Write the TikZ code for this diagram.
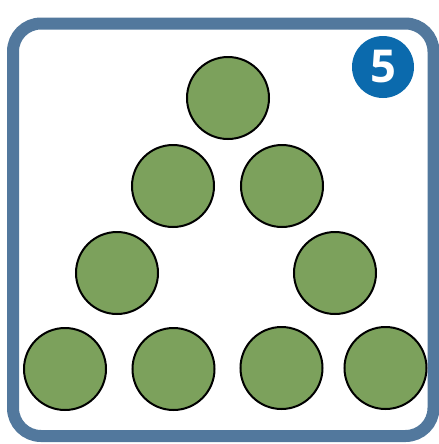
\documentclass[tikz,border=0pt]{standalone}
\usepackage{fontspec}
\setsansfont{Open Sans}
\definecolor{FrameBlue}{HTML}{52789D}
\definecolor{BadgeBlue}{HTML}{0B6AAD}
\definecolor{CounterGreen}{HTML}{7CA15C}
\usepackage{tikz}
\usetikzlibrary{positioning}
\tikzset{
    % Outer card frame
    cardframe/.style={
        draw=FrameBlue,
        fill=white,
        line width=9pt,
        rounded corners=21pt
    },
    % Green counter
    counter/.style={
        circle,
        draw=black,
        fill=CounterGreen,
        line width=1.5pt,
        minimum size=61.5pt,
        inner sep=0pt
    },
    % Number badge
    badge/.style={
        circle,
        fill=BadgeBlue,
        text=white,
        minimum size=46.5pt,
        inner sep=0pt,
        font=\sffamily\bfseries\fontsize{34}{34}\selectfont
    }
}
\begin{document}
\begin{tikzpicture}[x=0.75pt, y=-0.75pt]
        \useasboundingbox (0,0) rectangle (439,444);
        % Frame
        \draw[cardframe] (13,23.5) rectangle (433.5,436);

        % Badge
        \node[badge] (num) at (383,67) {5};

        % Top of triangle
        \node[counter] (c1) at (228,98) {};

        % Second row
        \node[counter] (c2) at (173,186) {};
        \node[counter] (c3) at (282,186) {};

        % Third row
        \node[counter] (c4) at (117,273) {};
        \node[counter] (c5) at (335,273) {};

        % Bottom row
        \node[counter] (c6) at (65,369) {};
        \node[counter] (c7) at (173.5,369) {};
        \node[counter] (c8) at (281.5,368) {};
        \node[counter] (c9) at (385.5,368) {};
    \end{tikzpicture}
\end{document}
